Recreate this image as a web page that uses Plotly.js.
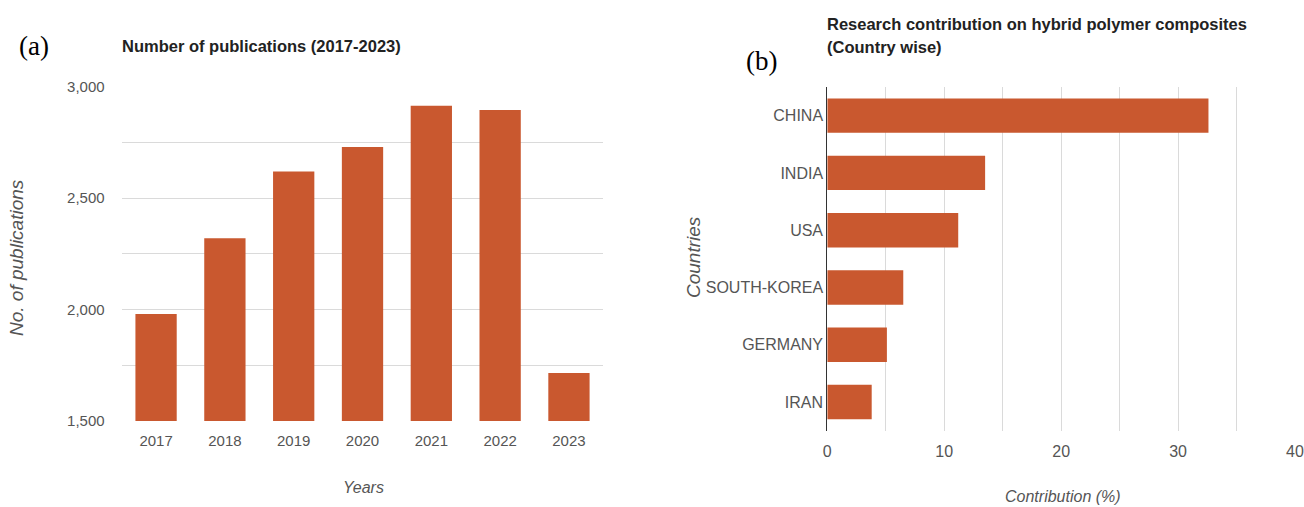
<!DOCTYPE html>
<html>
<head>
<meta charset="utf-8">
<script src="https://cdn.plot.ly/plotly-3.0.1.min.js"></script>
<style>
  html, body { margin: 0; padding: 0; background: #fff; }
  #chart { width: 1304px; height: 507px; }
</style>
</head>
<body>
<div id="chart"></div>
<script>
// Panel (a): yearly publication counts
const years = ['2017', '2018', '2019', '2020', '2021', '2022', '2023'];
const publications = [1980, 2320, 2620, 2730, 2915, 2895, 1715];
const pubTicks = [1500, 2000, 2500, 3000];
const pubTickText = ['1,500', '2,000', '2,500', '3,000'];

// Panel (b): share of research by country (%)
const countries = ['CHINA', 'INDIA', 'USA', 'SOUTH-KOREA', 'GERMANY', 'IRAN'];
const contribution = [32.6, 13.5, 11.2, 6.5, 5.1, 3.8];
const contribTicks = [0, 10, 20, 30, 40];

const barColor = '#c9582f';
const gridColor = '#dadada';
const sans = 'Liberation Sans, Arial, sans-serif';
const tickFontA = { family: sans, size: 15, color: '#555' };
const tickFontB = { family: sans, size: 16, color: '#555' };
const titleFont = { family: sans, size: 16.5, color: '#222', weight: 'bold' };
const axisTitleFont = { family: sans, size: 16, color: '#555', style: 'italic' };
const sideTitleFont = { family: sans, size: 19, color: '#555', style: 'italic' };
const panelFont = { family: 'Liberation Serif, Times New Roman, serif', size: 27, color: '#000' };

const traces = [
  {
    type: 'bar',
    x: years,
    y: publications,
    marker: { color: barColor },
    xaxis: 'x',
    yaxis: 'y',
    hoverinfo: 'x+y'
  },
  {
    type: 'bar',
    orientation: 'h',
    x: contribution,
    y: countries,
    marker: { color: barColor },
    xaxis: 'x2',
    yaxis: 'y2',
    hoverinfo: 'x+y'
  }
];

function note(text, x, y, font, extra) {
  return Object.assign({
    text: text, xref: 'paper', yref: 'paper', x: x / 1304, y: 1 - y / 507,
    xanchor: 'left', yanchor: 'middle', showarrow: false, font: font
  }, extra || {});
}

const layout = {
  width: 1304,
  height: 507,
  margin: { l: 0, r: 0, t: 0, b: 0 },
  paper_bgcolor: '#fff',
  plot_bgcolor: '#fff',
  showlegend: false,
  bargap: 0.4,
  xaxis: {
    domain: [0.0933, 0.4627],
    anchor: 'y',
    type: 'category',
    showgrid: false,
    zeroline: false,
    showline: false,
    ticks: '',
    tickfont: tickFontA,
    ticklabelstandoff: 9
  },
  yaxis: {
    domain: [0.1696, 0.829],
    anchor: 'x',
    range: [1500, 3000],
    tickvals: pubTicks,
    ticktext: pubTickText,
    showgrid: true,
    gridcolor: gridColor,
    gridwidth: 1,
    minor: { dtick: 250, showgrid: true, gridcolor: gridColor, gridwidth: 1 },
    zeroline: false,
    showline: false,
    ticks: '',
    tickfont: tickFontA,
    ticklabelstandoff: 16
  },
  xaxis2: {
    domain: [0.6344, 0.9931],
    anchor: 'y2',
    range: [0, 40],
    tickvals: contribTicks,
    showgrid: true,
    gridcolor: gridColor,
    minor: { dtick: 5, showgrid: true, gridcolor: gridColor },
    zeroline: false,
    showline: false,
    ticks: '',
    tickfont: tickFontB,
    ticklabelstandoff: 9
  },
  yaxis2: {
    domain: [0.1505, 0.8284],
    anchor: 'x2',
    type: 'category',
    autorange: 'reversed',
    showgrid: false,
    zeroline: false,
    showline: true,
    linecolor: '#333',
    linewidth: 1,
    ticks: '',
    tickfont: tickFontB,
    ticklabelstandoff: 0
  },
  annotations: [
    note('(a)', 17, 46, panelFont),
    note('Number of publications (2017-2023)', 120, 46, titleFont),
    note('Years', 363, 487, axisTitleFont, { xanchor: 'center' }),
    note('No. of publications', 16, 258, sideTitleFont, { xanchor: 'center', textangle: -90 }),
    note('(b)', 744, 61, panelFont),
    note('Research contribution on hybrid polymer composites', 825, 24, titleFont),
    note('(Country wise)', 825, 47, titleFont),
    note('Contribution (%)', 1063, 496, axisTitleFont, { xanchor: 'center' }),
    note('Countries', 693, 257, sideTitleFont, { xanchor: 'center', textangle: -90 })
  ]
};

Plotly.newPlot('chart', traces, layout, { displayModeBar: false, staticPlot: true });
</script>
</body>
</html>
